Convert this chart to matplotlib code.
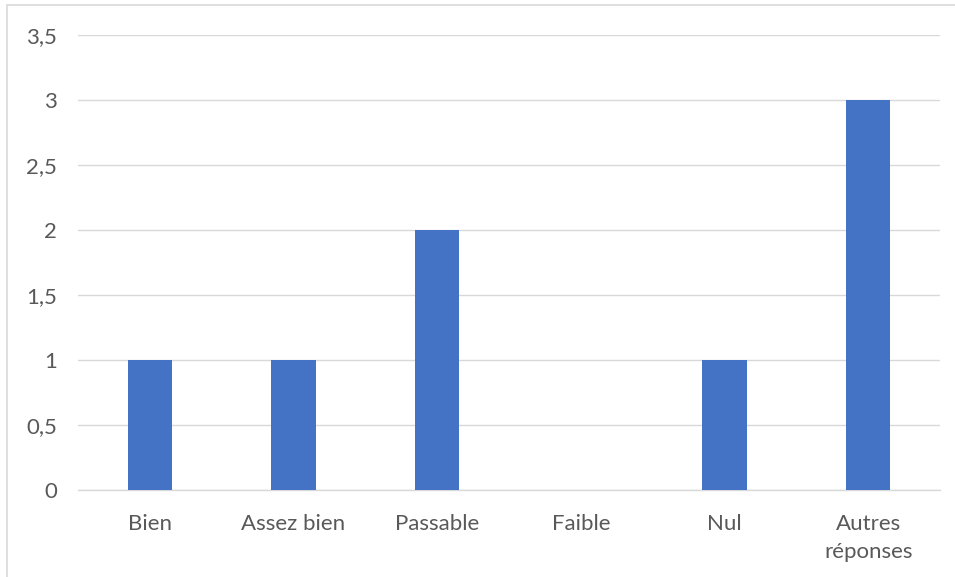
import matplotlib
matplotlib.use("Agg")
import matplotlib.pyplot as plt
from matplotlib.patches import Rectangle

categories = ["Bien", "Assez bien", "Passable", "Faible", "Nul", "Autres\nréponses"]
values = [1, 1, 2, 0, 1, 3]
yticks = [0, 0.5, 1, 1.5, 2, 2.5, 3, 3.5]
ytick_labels = ["0", "0,5", "1", "1,5", "2", "2,5", "3", "3,5"]

plt.rcParams["font.family"] = ["Lato", "DejaVu Sans"]

W, H = 955, 577
fig = plt.figure(figsize=(W / 100, H / 100), dpi=100)
fig.patch.set_facecolor("white")

# outer chart frame
fig.patches.append(Rectangle((7 / W, -0.1), 1.2, 1 - 5 / H + 0.1,
                             transform=fig.transFigure, fill=False,
                             edgecolor="#D9D9D9", linewidth=1.2))

ax = fig.add_axes([78 / W, 1 - 490 / H, (940 - 78) / W, (490 - 35) / H])
x = range(len(categories))
ax.bar(x, values, width=0.31, color="#4472C4", zorder=3)

ax.set_xlim(-0.5, len(categories) - 0.5)
ax.set_ylim(0, 3.5)
ax.set_yticks(yticks)
ax.set_yticklabels(ytick_labels)
ax.set_xticks(list(x))
ax.set_xticklabels(categories, linespacing=1.5)

ax.grid(axis="y", color="#D9D9D9", linewidth=1.0, zorder=0)
for s in ["top", "right", "left"]:
    ax.spines[s].set_visible(False)
ax.spines["bottom"].set_color("#D9D9D9")
ax.spines["bottom"].set_linewidth(1.0)
ax.tick_params(axis="both", length=0, labelsize=16, colors="#595959")
ax.tick_params(axis="y", pad=15)
ax.tick_params(axis="x", pad=17)

fig.savefig("out.png", dpi=100)
